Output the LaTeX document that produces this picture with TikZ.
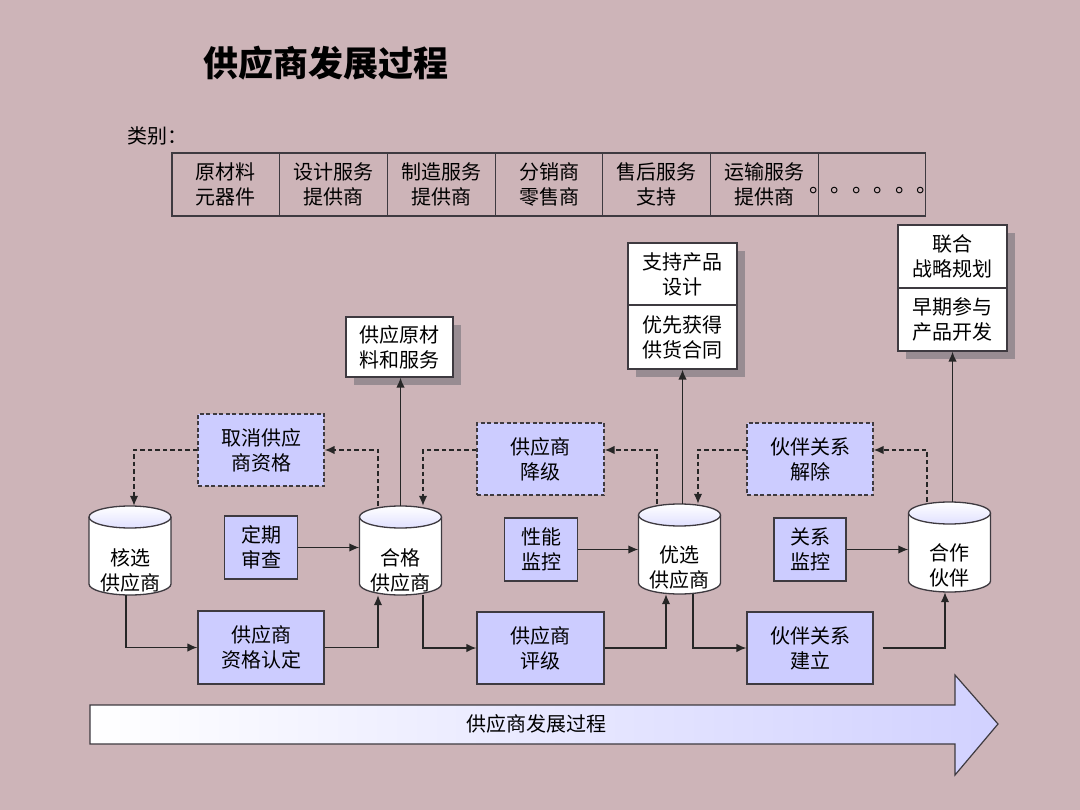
\documentclass[tikz,border=0pt]{standalone}
\usepackage{fontspec}
\setmainfont{Noto Sans CJK SC}
\usetikzlibrary{arrows.meta,shadows}
\definecolor{bg}{RGB}{205,180,184}
\definecolor{lav}{RGB}{204,204,255}
\definecolor{edge}{RGB}{62,58,64}
\definecolor{shd}{RGB}{152,140,146}
\newcommand\mycyl[6]{%
  \fill[white] (#2-41,#3+11) rectangle (#2+41,#4-11);
  \fill[white] (#2,#4-11) ellipse [x radius=41, y radius=11];
  \draw[edge, line width=1.3pt] (#2-41,#3+11) -- (#2-41,#4-11)
     arc[start angle=180, end angle=0, x radius=41, y radius=11] -- (#2+41,#3+11);
  \draw[edge, line width=1.3pt, top color=white, bottom color=lav!60] (#2,#3+11) ellipse [x radius=41, y radius=11];
  \node[inner sep=0pt, minimum width=82pt, minimum height=#4-#3] (#1) at (#2,{(#3+#4)/2}) {};
  \node[txt] (#1t) at (#2,#6) {#5};
}
\begin{document}
\begin{tikzpicture}[x=1pt,y=-1pt,
  txt/.style={font=\fontsize{20}{25}\selectfont, align=center, inner sep=0pt},
  bluebox/.style={txt, draw=edge, line width=1.3pt, fill=lav},
  dbox/.style={bluebox, dash pattern=on 4pt off 2.5pt},
  wbox/.style={txt, draw=edge, line width=1.3pt, fill=white, drop shadow={shadow xshift=8pt, shadow yshift=-8pt, fill=shd, opacity=1}},
  cell/.style={txt, draw=edge, line width=1.2pt, minimum width=107.7pt, minimum height=63pt},
  conn/.style={line width=1.4pt, draw=black!85, -{Latex[length=10pt,width=8.5pt]}},
  dconn/.style={conn, dash pattern=on 4.5pt off 3pt},
]
\fill[bg] (0,0) rectangle (1080,810);
\useasboundingbox (0,0) rectangle (1080,810);

% title
\node[font=\fontsize{35}{40}\selectfont\bfseries, inner sep=0pt] (title) at (326,63) {供应商发展过程};

% categories
\node[txt, anchor=west] (lb) at (127,136) {类别：};
\node[cell] (c1) at (225.9,184.5) {原材料\\元器件};
\node[cell] (c2) at (333.6,184.5) {设计服务\\提供商};
\node[cell] (c3) at (441.3,184.5) {制造服务\\提供商};
\node[cell] (c4) at (549.0,184.5) {分销商\\零售商};
\node[cell] (c5) at (656.6,184.5) {售后服务\\支持};
\node[cell] (c6) at (764.3,184.5) {运输服务\\提供商};
\node[cell] (c7) at (872.0,184.5) {};
\node[anchor=base west, font=\fontsize{21.5}{22}\selectfont, inner sep=0pt] (dots) at (809,193) {。。。。。。};

% big arrow
\draw[edge, line width=1.2pt, left color=white, right color=lav!90] (90,705) -- (955,705) -- (955,675) -- (998,724) -- (955,775) -- (955,744) -- (90,744) -- cycle;
\node[txt] (proc) at (536,724) {供应商发展过程};

% cylinders
\mycyl{hexuan}{130}{506}{595}{核选\\供应商}{570}
\mycyl{hege}{400.5}{506}{595}{合格\\供应商}{570}
\mycyl{youxuan}{679.5}{504}{594}{优选\\供应商}{567}
\mycyl{hezuo}{949.5}{502}{592}{合作\\伙伴}{565}

% blue boxes
\node[bluebox, minimum width=73pt, minimum height=63pt] (dingqi) at (261,547.5) {定期\\审查};
\node[bluebox, minimum width=126pt, minimum height=73pt] (renzheng) at (261,647.5) {供应商\\资格认定};
\node[dbox, minimum width=126pt, minimum height=72pt] (quxiao) at (261,450) {取消供应\\商资格};
\node[bluebox, minimum width=73pt, minimum height=63pt] (xingneng) at (541,549.5) {性能\\监控};
\node[bluebox, minimum width=127pt, minimum height=72pt] (pingji) at (540.5,648) {供应商\\评级};
\node[dbox, minimum width=127pt, minimum height=72pt] (jiangji) at (540.5,459) {供应商\\降级};
\node[bluebox, minimum width=72pt, minimum height=63pt] (guanxi) at (810,549.5) {关系\\监控};
\node[bluebox, minimum width=126pt, minimum height=72pt] (jianli) at (810,648) {伙伴关系\\建立};
\node[dbox, minimum width=126pt, minimum height=72pt] (jiechu) at (810,459) {伙伴关系\\解除};

% white boxes
\node[wbox, minimum width=107pt, minimum height=60pt] (gongying) at (399.5,347) {供应原材\\料和服务};
\node[wbox, minimum width=109pt, minimum height=62pt] (zhichi1) at (682.5,274) {支持产品\\设计};
\node[wbox, minimum width=109pt, minimum height=64pt] (zhichi2) at (682.5,337) {优先获得\\供货合同};
\node[wbox, minimum width=109pt, minimum height=63pt] (lianhe1) at (952.5,256.5) {联合\\战略规划};
\node[wbox, minimum width=109pt, minimum height=63pt] (lianhe2) at (952.5,319.5) {早期参与\\产品开发};

% connectors
\draw[conn] ([xshift=-4pt]hexuan.south) |- (renzheng.west);
\draw[conn] (renzheng.east) -| ([xshift=-22.5pt]hege.south);
\draw[conn] (dingqi.east) -- (dingqi.east -| hege.west);
\draw[dconn] ([xshift=-22.5pt]hege.north) |- (quxiao.east);
\draw[dconn] (quxiao.west) -| ([xshift=4pt]hexuan.north);
\draw[conn] (hege.north) -- (hege.north |- gongying.south);

\draw[conn] ([xshift=22.5pt]hege.south) |- (pingji.west);
\draw[conn] (pingji.east) -| ([xshift=-13.5pt]youxuan.south);
\draw[conn] (xingneng.east) -- (xingneng.east -| youxuan.west);
\draw[dconn] ([xshift=-22.5pt]youxuan.north) |- ([yshift=9pt]jiangji.east);
\draw[dconn] ([yshift=9pt]jiangji.west) -| ([xshift=22.5pt]hege.north);
\draw[conn] (zhichi2.south |- youxuan.north) -- (zhichi2.south);

\draw[conn] ([xshift=13.5pt]youxuan.south) |- (jianli.west);
\draw[conn] ([xshift=9pt]jianli.east) -| ([xshift=-4.5pt]hezuo.south);
\draw[conn] (guanxi.east) -- (guanxi.east -| hezuo.west);
\draw[dconn] ([xshift=-22.5pt]hezuo.north) |- ([yshift=9pt]jiechu.east);
\draw[dconn] ([yshift=9pt]jiechu.west) -| ([xshift=18.5pt]youxuan.north);
\draw[conn] (lianhe2.south |- hezuo.north) -- (lianhe2.south);
\end{tikzpicture}
\end{document}
